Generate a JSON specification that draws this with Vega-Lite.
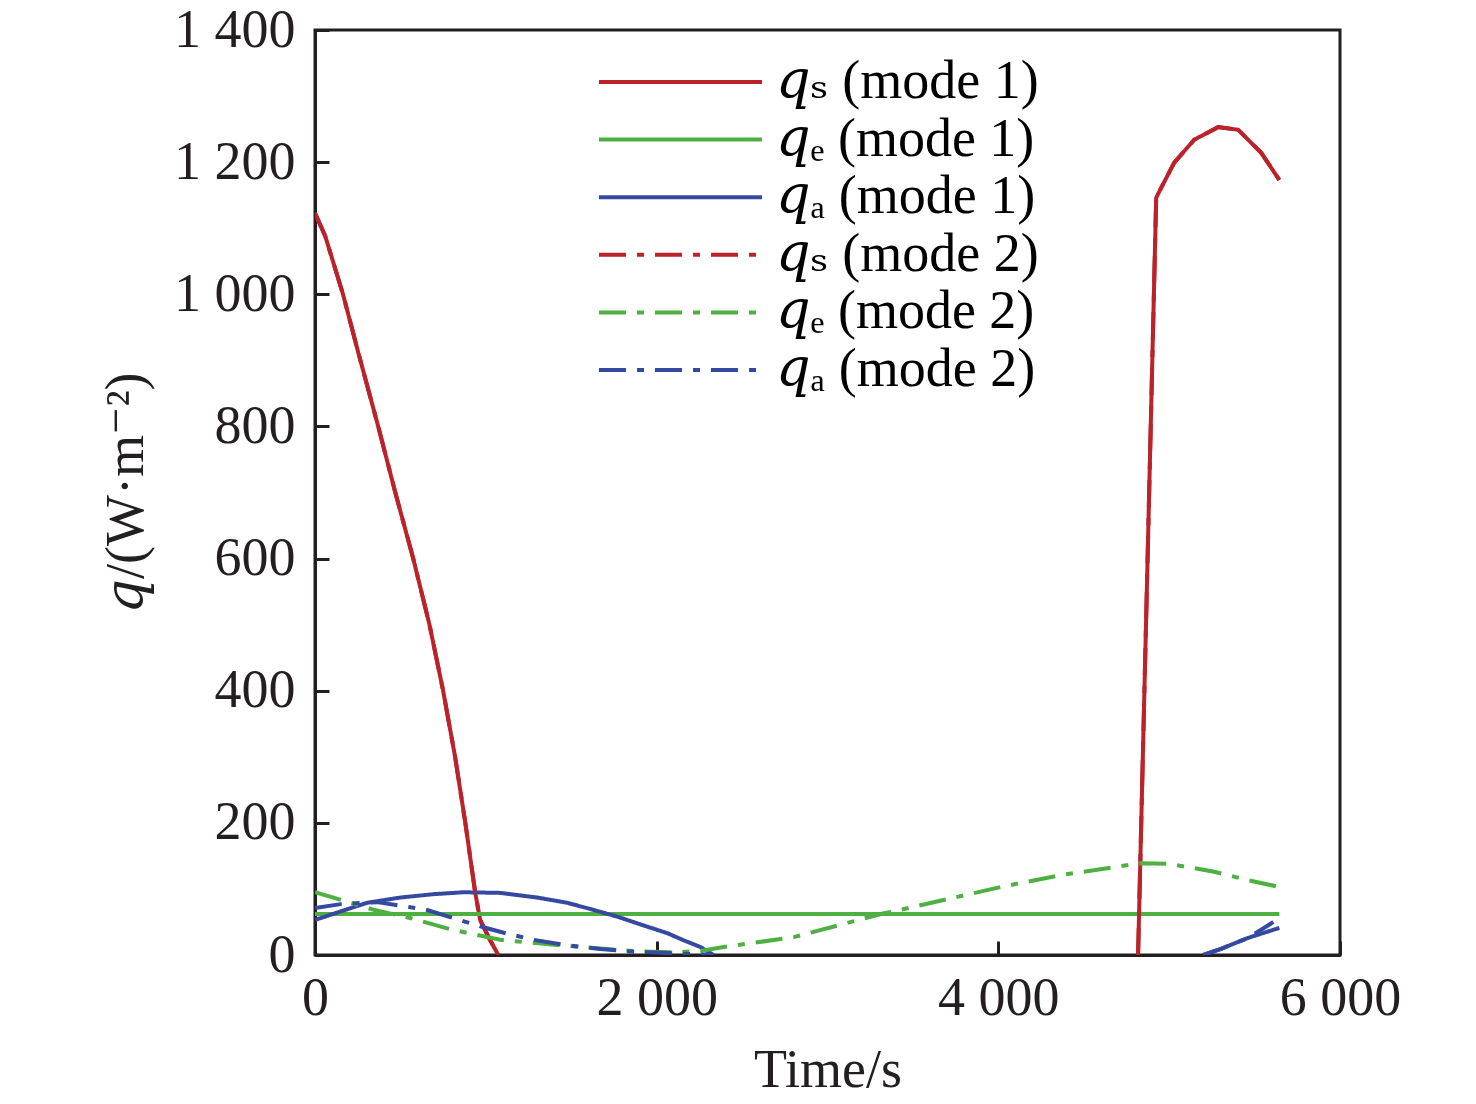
{
  "$schema": "https://vega.github.io/schema/vega-lite/v6.json",
  "width": 1025,
  "height": 925,
  "autosize": "none",
  "padding": {"left": 315, "top": 30, "right": 136, "bottom": 149},
  "background": "#FFFFFF",
  "data": {
    "values": [
      {"series": "qs1", "seg": "a", "t": 0, "q": 1123},
      {"series": "qs1", "seg": "a", "t": 60, "q": 1088},
      {"series": "qs1", "seg": "a", "t": 164, "q": 1000},
      {"series": "qs1", "seg": "a", "t": 250, "q": 915},
      {"series": "qs1", "seg": "a", "t": 370, "q": 800},
      {"series": "qs1", "seg": "a", "t": 470, "q": 700},
      {"series": "qs1", "seg": "a", "t": 575, "q": 600},
      {"series": "qs1", "seg": "a", "t": 670, "q": 500},
      {"series": "qs1", "seg": "a", "t": 750, "q": 400},
      {"series": "qs1", "seg": "a", "t": 820, "q": 300},
      {"series": "qs1", "seg": "a", "t": 880, "q": 200},
      {"series": "qs1", "seg": "a", "t": 938, "q": 94},
      {"series": "qs1", "seg": "a", "t": 967, "q": 53},
      {"series": "qs1", "seg": "a", "t": 1020, "q": 25},
      {"series": "qs1", "seg": "a", "t": 1073, "q": 0},
      {"series": "qs1", "seg": "b", "t": 4818, "q": 0},
      {"series": "qs1", "seg": "b", "t": 4870, "q": 560},
      {"series": "qs1", "seg": "b", "t": 4924, "q": 1146},
      {"series": "qs1", "seg": "b", "t": 4941, "q": 1155},
      {"series": "qs1", "seg": "b", "t": 5029, "q": 1199},
      {"series": "qs1", "seg": "b", "t": 5147, "q": 1234},
      {"series": "qs1", "seg": "b", "t": 5287, "q": 1253},
      {"series": "qs1", "seg": "b", "t": 5404, "q": 1249},
      {"series": "qs1", "seg": "b", "t": 5539, "q": 1214},
      {"series": "qs1", "seg": "b", "t": 5645, "q": 1173},
      {"series": "qe1", "seg": "a", "t": 0, "q": 62},
      {"series": "qe1", "seg": "a", "t": 5645, "q": 62},
      {"series": "qa1", "seg": "a", "t": 0, "q": 53},
      {"series": "qa1", "seg": "a", "t": 150, "q": 66},
      {"series": "qa1", "seg": "a", "t": 305, "q": 79},
      {"series": "qa1", "seg": "a", "t": 500, "q": 87},
      {"series": "qa1", "seg": "a", "t": 692, "q": 92},
      {"series": "qa1", "seg": "a", "t": 870, "q": 95},
      {"series": "qa1", "seg": "a", "t": 1084, "q": 94},
      {"series": "qa1", "seg": "a", "t": 1300, "q": 87},
      {"series": "qa1", "seg": "a", "t": 1477, "q": 79},
      {"series": "qa1", "seg": "a", "t": 1620, "q": 69},
      {"series": "qa1", "seg": "a", "t": 1770, "q": 58},
      {"series": "qa1", "seg": "a", "t": 1920, "q": 45},
      {"series": "qa1", "seg": "a", "t": 2063, "q": 33},
      {"series": "qa1", "seg": "a", "t": 2160, "q": 22},
      {"series": "qa1", "seg": "a", "t": 2257, "q": 12},
      {"series": "qa1", "seg": "a", "t": 2333, "q": 0},
      {"series": "qa1", "seg": "b", "t": 5199, "q": 0},
      {"series": "qa1", "seg": "b", "t": 5300, "q": 9},
      {"series": "qa1", "seg": "b", "t": 5463, "q": 26},
      {"series": "qa1", "seg": "b", "t": 5645, "q": 41},
      {"series": "qs2", "seg": "a", "t": 0, "q": 1123},
      {"series": "qs2", "seg": "a", "t": 60, "q": 1088},
      {"series": "qs2", "seg": "a", "t": 164, "q": 1000},
      {"series": "qs2", "seg": "a", "t": 250, "q": 915},
      {"series": "qs2", "seg": "a", "t": 370, "q": 800},
      {"series": "qs2", "seg": "a", "t": 470, "q": 700},
      {"series": "qs2", "seg": "a", "t": 575, "q": 600},
      {"series": "qs2", "seg": "a", "t": 670, "q": 500},
      {"series": "qs2", "seg": "a", "t": 750, "q": 400},
      {"series": "qs2", "seg": "a", "t": 820, "q": 300},
      {"series": "qs2", "seg": "a", "t": 880, "q": 200},
      {"series": "qs2", "seg": "a", "t": 938, "q": 94},
      {"series": "qs2", "seg": "a", "t": 967, "q": 53},
      {"series": "qs2", "seg": "a", "t": 1020, "q": 25},
      {"series": "qs2", "seg": "a", "t": 1073, "q": 0},
      {"series": "qs2", "seg": "b", "t": 4818, "q": 0},
      {"series": "qs2", "seg": "b", "t": 4870, "q": 560},
      {"series": "qs2", "seg": "b", "t": 4924, "q": 1146},
      {"series": "qs2", "seg": "b", "t": 4941, "q": 1155},
      {"series": "qs2", "seg": "b", "t": 5029, "q": 1199},
      {"series": "qs2", "seg": "b", "t": 5147, "q": 1234},
      {"series": "qs2", "seg": "b", "t": 5287, "q": 1253},
      {"series": "qs2", "seg": "b", "t": 5404, "q": 1249},
      {"series": "qs2", "seg": "b", "t": 5539, "q": 1214},
      {"series": "qs2", "seg": "b", "t": 5645, "q": 1173},
      {"series": "qe2", "seg": "a", "t": 0, "q": 95},
      {"series": "qe2", "seg": "a", "t": 158, "q": 83},
      {"series": "qe2", "seg": "a", "t": 350, "q": 68},
      {"series": "qe2", "seg": "a", "t": 557, "q": 56},
      {"series": "qe2", "seg": "a", "t": 791, "q": 39},
      {"series": "qe2", "seg": "a", "t": 1084, "q": 23},
      {"series": "qe2", "seg": "a", "t": 1418, "q": 15},
      {"series": "qe2", "seg": "a", "t": 1864, "q": 6},
      {"series": "qe2", "seg": "a", "t": 2100, "q": 4},
      {"series": "qe2", "seg": "a", "t": 2257, "q": 6},
      {"series": "qe2", "seg": "a", "t": 2392, "q": 12},
      {"series": "qe2", "seg": "a", "t": 2802, "q": 27},
      {"series": "qe2", "seg": "a", "t": 3312, "q": 62},
      {"series": "qe2", "seg": "a", "t": 3388, "q": 66},
      {"series": "qe2", "seg": "a", "t": 4015, "q": 103},
      {"series": "qe2", "seg": "a", "t": 4367, "q": 121},
      {"series": "qe2", "seg": "a", "t": 4836, "q": 139},
      {"series": "qe2", "seg": "a", "t": 5000, "q": 138},
      {"series": "qe2", "seg": "a", "t": 5264, "q": 126},
      {"series": "qe2", "seg": "a", "t": 5450, "q": 114},
      {"series": "qe2", "seg": "a", "t": 5645, "q": 103},
      {"series": "qa2", "seg": "a", "t": 0, "q": 71},
      {"series": "qa2", "seg": "a", "t": 150, "q": 77},
      {"series": "qa2", "seg": "a", "t": 364, "q": 80},
      {"series": "qa2", "seg": "a", "t": 520, "q": 74},
      {"series": "qa2", "seg": "a", "t": 656, "q": 68},
      {"series": "qa2", "seg": "a", "t": 820, "q": 55},
      {"series": "qa2", "seg": "a", "t": 985, "q": 42},
      {"series": "qa2", "seg": "a", "t": 1130, "q": 32},
      {"series": "qa2", "seg": "a", "t": 1278, "q": 23},
      {"series": "qa2", "seg": "a", "t": 1470, "q": 15},
      {"series": "qa2", "seg": "a", "t": 1670, "q": 9},
      {"series": "qa2", "seg": "a", "t": 1870, "q": 5},
      {"series": "qa2", "seg": "a", "t": 2063, "q": 3},
      {"series": "qa2", "seg": "a", "t": 2333, "q": 0},
      {"series": "qa2", "seg": "b", "t": 5199, "q": 0},
      {"series": "qa2", "seg": "b", "t": 5300, "q": 9},
      {"series": "qa2", "seg": "b", "t": 5463, "q": 26},
      {"series": "qa2", "seg": "b", "t": 5610, "q": 50}
    ]
  },
  "mark": {"type": "line", "strokeWidth": 4, "clip": true},
  "encoding": {
    "x": {
      "field": "t",
      "type": "quantitative",
      "title": "Time/s",
      "scale": {"domain": [0, 6000], "nice": false},
      "axis": {"values": [0, 2000, 4000, 6000], "format": ",d", "labelFlush": false, "labelPadding": 30, "titlePadding": 18}
    },
    "y": {
      "field": "q",
      "type": "quantitative",
      "title": "𝑞/(W·m⁻²)",
      "scale": {"domain": [0, 1400], "nice": false},
      "axis": {"values": [0, 200, 400, 600, 800, 1000, 1200, 1400], "format": ",d", "labelPadding": 34, "titlePadding": 20}
    },
    "detail": {"field": "seg"},
    "color": {
      "field": "series",
      "type": "nominal",
      "scale": {
        "domain": ["qs1", "qe1", "qa1", "qs2", "qe2", "qa2"],
        "range": ["#BC2229", "#4DB041", "#3549A0", "#BC2229", "#4DB041", "#3549A0"]
      },
      "legend": {
        "title": null,
        "orient": "none",
        "legendX": 282,
        "legendY": 27,
        "symbolType": "stroke",
        "symbolSize": 26569,
        "symbolStrokeWidth": 4,
        "clipHeight": 50,
        "rowPadding": 3.6,
        "labelOffset": 12,
        "labelFont": "Liberation Serif, DejaVu Serif",
        "labelFontSize": 54,
        "labelColor": "#000000",
        "labelLimit": 500,
        "labelExpr": "{'qs1': '𝑞ₛ (mode 1)', 'qe1': '𝑞ₑ (mode 1)', 'qa1': '𝑞ₐ (mode 1)', 'qs2': '𝑞ₛ (mode 2)', 'qe2': '𝑞ₑ (mode 2)', 'qa2': '𝑞ₐ (mode 2)'}[datum.value]"
      }
    },
    "strokeDash": {
      "field": "series",
      "type": "nominal",
      "scale": {
        "domain": ["qs1", "qe1", "qa1", "qs2", "qe2", "qa2"],
        "range": [[1, 0], [1, 0], [1, 0], [27, 11, 7, 11], [27, 11, 7, 11], [27, 11, 7, 11]]
      },
      "legend": null
    },
    "order": {"field": "t"}
  },
  "config": {
    "font": "Liberation Serif",
    "locale": {
      "number": {"decimal": ".", "thousands": " ", "grouping": [3], "currency": ["", ""]}
    },
    "view": {"stroke": "#231F20", "strokeWidth": 3},
    "axis": {
      "grid": false,
      "domainColor": "#231F20",
      "domainWidth": 3,
      "tickColor": "#231F20",
      "tickWidth": 3,
      "tickSize": -14,
      "labelFont": "Liberation Serif",
      "labelFontSize": 54,
      "labelColor": "#231F20",
      "titleFont": "Liberation Serif, DejaVu Serif",
      "titleFontSize": 54,
      "titleFontWeight": "normal",
      "titleColor": "#231F20"
    },
    "axisX": {"labelBaseline": "top"},
    "axisY": {"labelAlign": "right", "labelBaseline": "middle"}
  }
}
